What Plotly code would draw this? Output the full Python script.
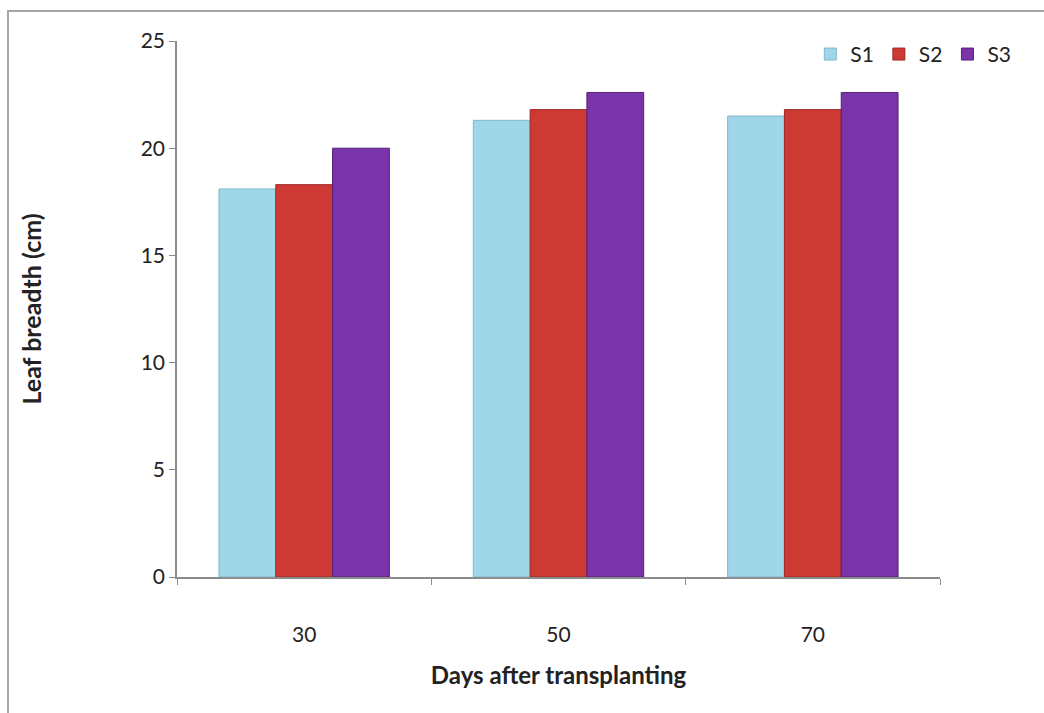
import plotly.graph_objects as go

days = ["30", "50", "70"]
s1 = [18.1, 21.3, 21.5]
s2 = [18.3, 21.8, 21.8]
s3 = [20.0, 22.6, 22.6]

series = [
    ("S1", s1, "#9fd7e8", "#7fb8cc"),
    ("S2", s2, "#cc3a33", "#9c2a25"),
    ("S3", s3, "#7a33a8", "#55207a"),
]

fig = go.Figure()
for name, vals, fill, edge in series:
    fig.add_trace(go.Bar(
        x=days, y=vals, name=name,
        marker=dict(color=fill, line=dict(color=edge, width=1)),
    ))

font_family = "Lato, 'Noto Sans', sans-serif"
fig.update_layout(
    width=1044, height=713,
    margin=dict(l=177, r=104, t=41, b=136),
    paper_bgcolor="white", plot_bgcolor="white",
    barmode="group", bargap=0.33, bargroupgap=0,
    font=dict(family=font_family, size=21, color="#222222"),
    showlegend=True,
    legend=dict(orientation="h", x=0.83, y=0.975, xanchor="left", yanchor="middle",
                font=dict(size=21), itemwidth=30, traceorder="normal",
                bgcolor="rgba(0,0,0,0)"),
    xaxis=dict(
        showline=True, linecolor="#8c8c8c", linewidth=1.5,
        ticks="outside", tickson="boundaries", ticklen=6, tickcolor="#8c8c8c",
        ticklabelstandoff=38,
        title=dict(text="<b>Days after transplanting</b>", font=dict(size=24), standoff=22),
        tickfont=dict(size=21),
    ),
    yaxis=dict(
        range=[0, 25], dtick=5, showgrid=False, zeroline=False,
        showline=True, linecolor="#8c8c8c", linewidth=1.5,
        ticks="outside", ticklen=6, tickcolor="#8c8c8c",
        title=dict(text="<b>Leaf breadth (cm)</b>", font=dict(size=25), standoff=92),
        tickfont=dict(size=21),
    ),
    shapes=[dict(type="rect", xref="paper", yref="paper",
                 x0=-0.2215, x1=1.3, y0=-0.4, y1=1.056,
                 line=dict(color="#a6a6a6", width=2), layer="below")],
)

fig.write_html("out.html")
